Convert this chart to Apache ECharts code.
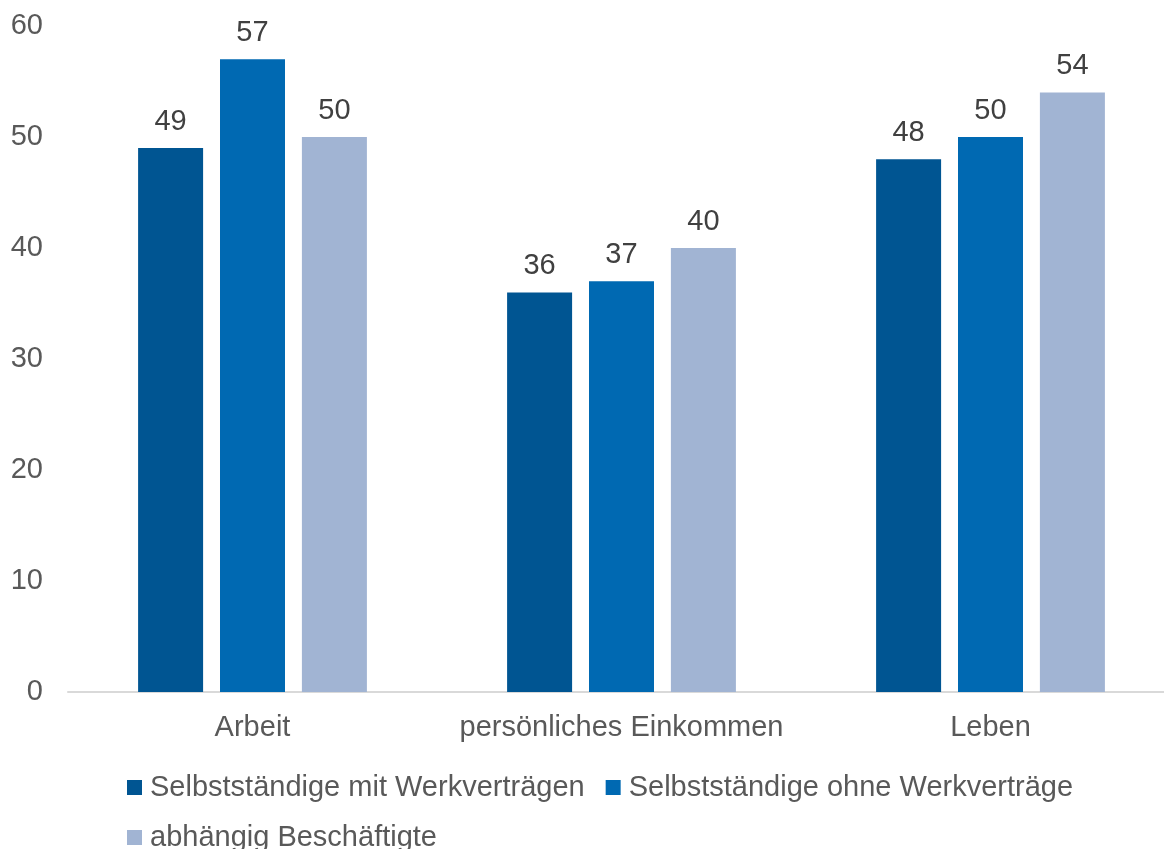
<!DOCTYPE html>
<html>
<head>
<meta charset="utf-8">
<script src="https://cdn.jsdelivr.net/npm/echarts@6/dist/echarts.min.js"></script>
<style>
html,body{margin:0;padding:0;background:#fff;overflow:hidden;}
#chart{width:1175px;height:849px;}
</style>
</head>
<body>
<div id="chart"></div>
<script>
const categories = ['Arbeit', 'persönliches Einkommen', 'Leben'];
const seriesNames = ['Selbstständige mit Werkverträgen', 'Selbstständige ohne Werkverträge', 'abhängig Beschäftigte'];
const mitWerkvertraegen = [49, 36, 48];
const ohneWerkvertraege = [57, 37, 50];
const abhaengig = [50, 40, 54];
const yTicks = [0, 10, 20, 30, 40, 50, 60];
const colors = ['#005592', '#0069B2', '#A1B4D3'];

const font = 'Liberation Sans, Arial, sans-serif';
const chart = echarts.init(document.getElementById('chart'));
const values = [mitWerkvertraegen, ohneWerkvertraege, abhaengig];

chart.setOption({
  animation: false,
  color: colors,
  grid: { left: 68, top: 26, right: 0, bottom: 157, containLabel: false },
  legend: {
    left: 122, top: 768, width: 1000,
    itemWidth: 15, itemHeight: 15, itemGap: 21,
    icon: 'rect',
    textStyle: { fontFamily: font, fontSize: 29, color: '#595959', lineHeight: 29, padding: [0, 0, 0, 3] },
    data: seriesNames
  },
  xAxis: {
    type: 'category', data: categories,
    axisLine: { lineStyle: { color: '#D9D9D9', width: 2 } },
    axisTick: { show: false },
    axisLabel: { fontFamily: font, fontSize: 29, color: '#595959', margin: 21, interval: 0 }
  },
  yAxis: {
    type: 'value', min: yTicks[0], max: yTicks[yTicks.length - 1], interval: 10,
    axisLine: { show: false }, axisTick: { show: false }, splitLine: { show: false },
    axisLabel: { fontFamily: font, fontSize: 29, color: '#595959', margin: 25 }
  },
  series: seriesNames.map((n, i) => ({
    name: n, type: 'bar', data: values[i],
    barWidth: 65, barGap: '26%',
    label: { show: true, position: 'top', distance: 12, fontFamily: font, fontSize: 29, color: '#404040' }
  }))
});
</script>
</body>
</html>
